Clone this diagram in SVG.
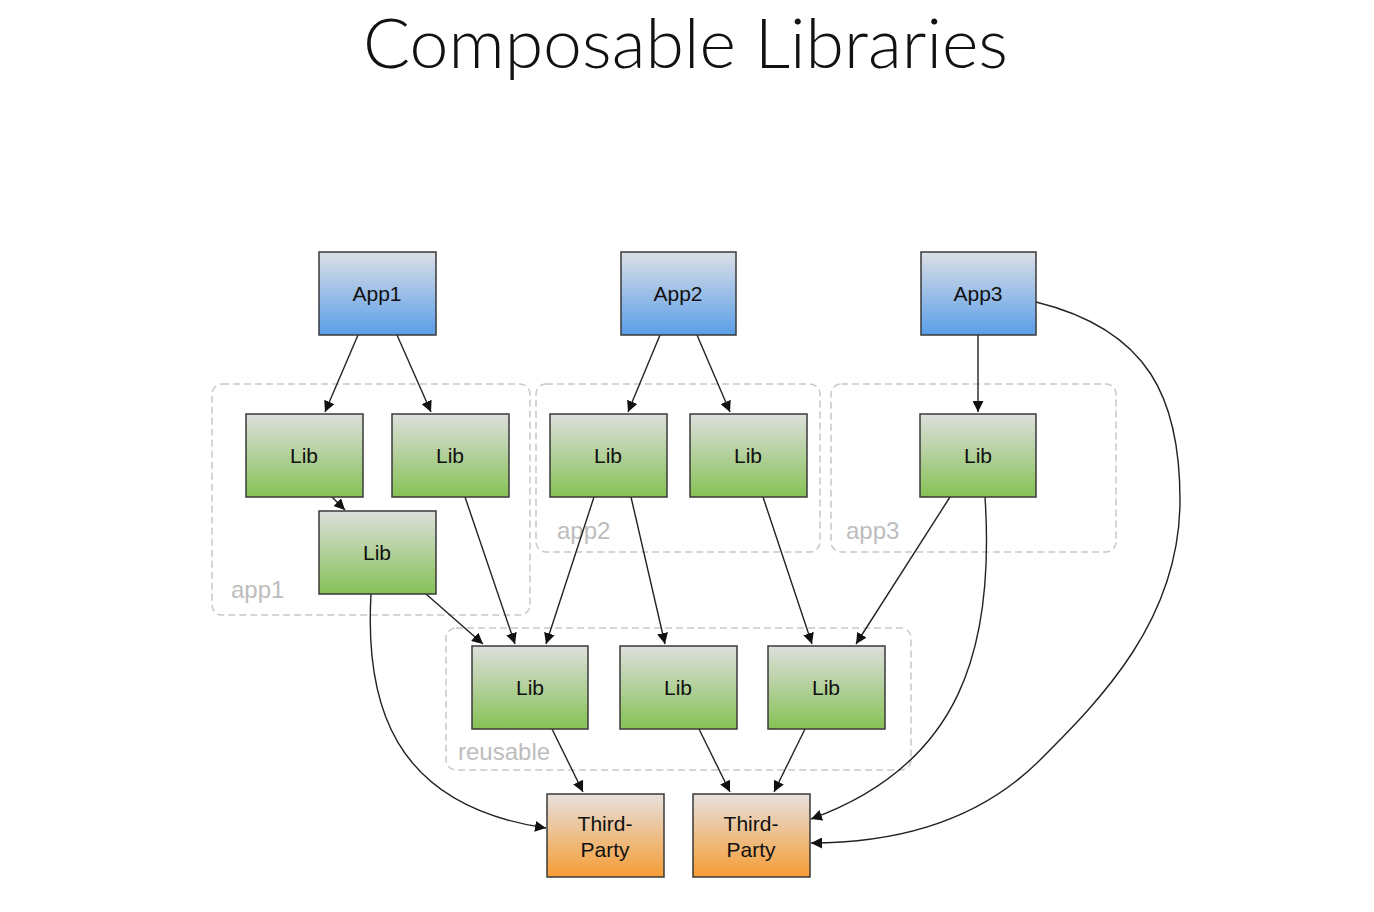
<svg xmlns="http://www.w3.org/2000/svg" width="1374" height="912" viewBox="0 0 1374 912">
<style>
.node rect{stroke:#3a3a3a;stroke-width:1.5}
.node text{font-family:"Liberation Sans",Arial,sans-serif;font-size:21px;fill:#111;text-anchor:middle}
.cl rect{fill:none;stroke:#c8c8c8;stroke-width:1.5;stroke-dasharray:7 4}
.cl text{font-family:"Liberation Sans",Arial,sans-serif;font-size:24px;fill:#bdbdbd}
.edges path{fill:none;stroke:#222;stroke-width:1.4;marker-end:url(#ah)}
</style>
<defs>
<linearGradient id="gb" x1="0" y1="0" x2="0" y2="1"><stop offset="0" stop-color="#dcdfe6"/><stop offset="1" stop-color="#5a9ee8"/></linearGradient>
<linearGradient id="gg" x1="0" y1="0" x2="0" y2="1"><stop offset="0" stop-color="#dedfdd"/><stop offset="1" stop-color="#86c155"/></linearGradient>
<linearGradient id="go" x1="0" y1="0" x2="0" y2="1"><stop offset="0" stop-color="#e6e0dd"/><stop offset="1" stop-color="#f59d35"/></linearGradient>
<marker id="ah" viewBox="0 0 10 10" refX="10" refY="5" markerWidth="11" markerHeight="11" markerUnits="userSpaceOnUse" orient="auto"><path d="M0,0 L10,5 L0,10 z" fill="#111"/></marker>
</defs>
<rect width="1374" height="912" fill="#fff"/>
<text x="363" y="68" textLength="645" lengthAdjust="spacingAndGlyphs" font-family="Lato, 'Open Sans', sans-serif" font-weight="300" font-size="68" fill="#111">Composable Libraries</text>

<g id="cluster-app1" class="cl"><rect x="212" y="384" width="318" height="231" rx="10"/><text x="231" y="598">app1</text></g>
<g id="cluster-app2" class="cl"><rect x="536" y="384" width="284" height="168" rx="10"/><text x="557" y="539">app2</text></g>
<g id="cluster-app3" class="cl"><rect x="831" y="384" width="285" height="168" rx="10"/><text x="846" y="539">app3</text></g>
<g id="cluster-reusable" class="cl"><rect x="446" y="628" width="465" height="142" rx="10"/><text x="458" y="760">reusable</text></g>

<g class="edges" id="connectors">
<path d="M358,335 L325,412"/>
<path d="M397,335 L431,412"/>
<path d="M660,335 L628,412"/>
<path d="M697,335 L730,412"/>
<path d="M978,335 L978,412"/>
<path d="M1036,302 C1150,330 1180,400 1180,500 C1180,620 1100,700 1040,760 C980,820 900,843 811,843"/>
<path d="M332,497 L345,510"/>
<path d="M465,497 L515,644"/>
<path d="M426,594 L483,644"/>
<path d="M371,594 C365,700 390,805 546,828"/>
<path d="M594,497 L546,644"/>
<path d="M631,497 L665,644"/>
<path d="M763,497 L812,644"/>
<path d="M950,497 L856,644"/>
<path d="M985,497 C995,650 960,765 811,819"/>
<path d="M552,729 L583,792"/>
<path d="M699,729 L730,792"/>
<path d="M805,729 L774,792"/>
</g>

<g id="app1" class="node"><rect x="319" y="252" width="117" height="83" fill="url(#gb)"/><text x="377" y="301">App1</text></g>
<g id="app2" class="node"><rect x="621" y="252" width="115" height="83" fill="url(#gb)"/><text x="678" y="301">App2</text></g>
<g id="app3" class="node"><rect x="921" y="252" width="115" height="83" fill="url(#gb)"/><text x="978" y="301">App3</text></g>

<g id="lib-app1-a" class="node"><rect x="246" y="414" width="117" height="83" fill="url(#gg)"/><text x="304" y="463">Lib</text></g>
<g id="lib-app1-b" class="node"><rect x="392" y="414" width="117" height="83" fill="url(#gg)"/><text x="450" y="463">Lib</text></g>
<g id="lib-app1-c" class="node"><rect x="319" y="511" width="117" height="83" fill="url(#gg)"/><text x="377" y="560">Lib</text></g>
<g id="lib-app2-a" class="node"><rect x="550" y="414" width="117" height="83" fill="url(#gg)"/><text x="608" y="463">Lib</text></g>
<g id="lib-app2-b" class="node"><rect x="690" y="414" width="117" height="83" fill="url(#gg)"/><text x="748" y="463">Lib</text></g>
<g id="lib-app3" class="node"><rect x="920" y="414" width="116" height="83" fill="url(#gg)"/><text x="978" y="463">Lib</text></g>

<g id="lib-reusable-a" class="node"><rect x="472" y="646" width="116" height="83" fill="url(#gg)"/><text x="530" y="695">Lib</text></g>
<g id="lib-reusable-b" class="node"><rect x="620" y="646" width="117" height="83" fill="url(#gg)"/><text x="678" y="695">Lib</text></g>
<g id="lib-reusable-c" class="node"><rect x="768" y="646" width="117" height="83" fill="url(#gg)"/><text x="826" y="695">Lib</text></g>

<g id="third-party-a" class="node"><rect x="547" y="794" width="117" height="83" fill="url(#go)"/><text x="605" y="831">Third-</text><text x="605" y="857">Party</text></g>
<g id="third-party-b" class="node"><rect x="693" y="794" width="117" height="83" fill="url(#go)"/><text x="751" y="831">Third-</text><text x="751" y="857">Party</text></g>
</svg>
